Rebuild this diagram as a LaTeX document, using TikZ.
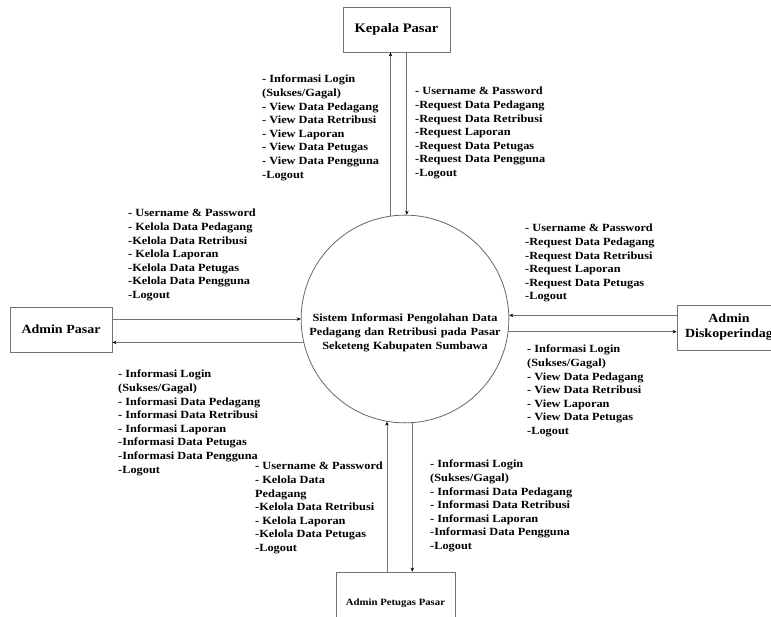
\documentclass[tikz,border=0pt]{standalone}
\usepackage{fontspec}
\setmainfont{Liberation Serif}
\newfontfamily\dfdfont[FakeStretch=1.12]{Liberation Serif}
\usetikzlibrary{arrows.meta}

\begin{document}
\begin{tikzpicture}[x=1pt,y=-1pt,
	entity/.style={draw=black!55,line width=0.8pt,minimum width=105,minimum height=45,inner sep=2pt,font=\dfdfont\fontsize{12.5}{15}\selectfont\bfseries,align=center},
	proc/.style={circle,draw=black!60,line width=0.8pt,minimum size=200,inner sep=0pt,text width=198,align=center,font=\dfdfont\fontsize{11}{14}\selectfont\bfseries},
	lbl/.style={anchor=north west,inner sep=0pt,align=left,font=\dfdfont\fontsize{11}{13.6}\selectfont\bfseries},
	flow/.style={draw=black!55,line width=0.8pt,-{Stealth[length=4pt,width=3.5pt,black]}}]
	\useasboundingbox (0,0) rectangle (771,617);
	% entitas luar dan proses
	\node[proc] (sis) at (405,319) {\rule{0pt}{35pt}Sistem Informasi Pengolahan Data\\Pedagang dan Retribusi pada Pasar\\Seketeng Kabupaten Sumbawa};
	\node[entity,minimum width=107,font=\dfdfont\fontsize{13}{15}\selectfont\bfseries] (kp) at (396.5,29.5) {Kepala Pasar};
	\node[entity,minimum width=102] (ap) at (61,329.5) {Admin Pasar};
	\node[entity,minimum width=104] (dk) at (729,327.5) {Admin\\Diskoperindag};
	\node[entity,minimum width=119,minimum height=62,font=\dfdfont\fontsize{9.6}{11}\selectfont\bfseries] (pp) at (395.5,603) {Admin Petugas Pasar};
	% alur data
	\draw[flow] (sis.98) -- (kp.south -| sis.98);
	\draw[flow] (kp.south -| sis.89.4) -- (sis.89.4);
	\draw[flow] (ap.east |- sis.180) -- (sis.180);
	\draw[flow] (sis.193.3) -- (ap.east |- sis.193.3);
	\draw[flow] (dk.west |- sis.2.3) -- (sis.2.3);
	\draw[flow] (sis.-7.5) -- (dk.west |- sis.-7.5);
	\draw[flow] (pp.north -| sis.260.2) -- (sis.260.2);
	\draw[flow] (sis.274) -- (pp.north -| sis.274);
	% label alur
	\node[lbl] (tl) at (262,75) {- Informasi Login\\(Sukses/Gagal)\\- View Data Pedagang\\- View Data Retribusi\\- View Laporan\\- View Data Petugas\\- View Data Pengguna\\-Logout};
	\node[lbl] (tr) at (415,87) {- Username \& Password\\-Request Data Pedagang\\-Request Data Retribusi\\-Request Laporan\\-Request Data Petugas\\-Request Data Pengguna\\-Logout};
	\node[lbl] (lu) at (128,209) {- Username \& Password\\- Kelola Data Pedagang\\-Kelola Data Retribusi\\- Kelola Laporan\\-Kelola Data Petugas\\-Kelola Data Pengguna\\-Logout};
	\node[lbl] (ll) at (118,370) {- Informasi Login\\(Sukses/Gagal)\\- Informasi Data Pedagang\\- Informasi Data Retribusi\\- Informasi Laporan\\-Informasi Data Petugas\\-Informasi Data Pengguna\\-Logout};
	\node[lbl] (ru) at (525,224) {- Username \& Password\\-Request Data Pedagang\\-Request Data Retribusi\\-Request Laporan\\-Request Data Petugas\\-Logout};
	\node[lbl] (rl) at (527,345) {- Informasi Login\\(Sukses/Gagal)\\- View Data Pedagang\\- View Data Retribusi\\- View Laporan\\- View Data Petugas\\-Logout};
	\node[lbl] (bl) at (255,462) {- Username \& Password\\- Kelola Data\\Pedagang\\-Kelola Data Retribusi\\- Kelola Laporan\\-Kelola Data Petugas\\-Logout};
	\node[lbl] (br) at (430,460) {- Informasi Login\\(Sukses/Gagal)\\- Informasi Data Pedagang\\- Informasi Data Retribusi\\- Informasi Laporan\\-Informasi Data Pengguna\\-Logout};
\end{tikzpicture}
\end{document}
